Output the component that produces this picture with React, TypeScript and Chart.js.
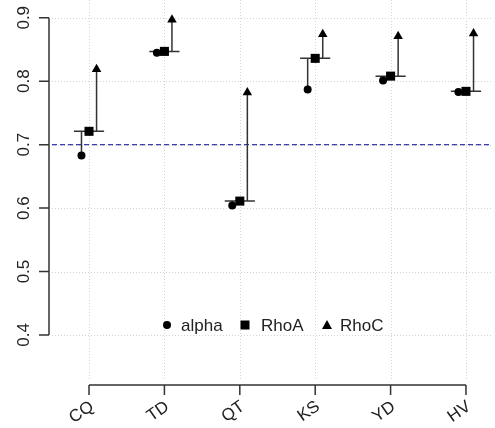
import { useEffect, useRef } from 'react';
import { Chart, registerables } from 'chart.js';

Chart.register(...registerables);

const categories = ['CQ', 'TD', 'QT', 'KS', 'YD', 'HV'];
const alpha = [0.683, 0.845, 0.604, 0.787, 0.801, 0.783];
const rhoA = [0.721, 0.847, 0.611, 0.836, 0.808, 0.784];
const rhoC = [0.819, 0.897, 0.782, 0.874, 0.871, 0.875];
const yTicks = [0.4, 0.5, 0.6, 0.7, 0.8, 0.9];
const yTickLabels = ['0.4', '0.5', '0.6', '0.7', '0.8', '0.9'];
const seriesNames = ['alpha', 'RhoA', 'RhoC'];
const refValue = 0.7;

const FONT = '"Liberation Sans", Arial, Helvetica, sans-serif';
const OFF = 0.1;
const CAP = 0.2;

export default function App() {
  const ref = useRef<HTMLCanvasElement | null>(null);

  useEffect(() => {
    const canvas = ref.current;
    if (!canvas) return;

    const pos = categories.map((_, i) => i + 1);

    const gap = { x: null as any, y: null as any };
    const capData: any[] = [];
    const lowData: any[] = [];
    const highData: any[] = [];
    pos.forEach((p, i) => {
      capData.push({ x: p - CAP, y: rhoA[i] }, { x: p + CAP, y: rhoA[i] }, gap);
      lowData.push({ x: p - OFF, y: alpha[i] }, { x: p - OFF, y: rhoA[i] }, gap);
      highData.push({ x: p + OFF, y: rhoA[i] }, { x: p + OFF, y: rhoC[i] }, gap);
    });

    const lineDs = (data: any[]) => ({
      type: 'line' as const,
      data,
      showLine: true,
      spanGaps: false,
      borderColor: '#333333',
      borderWidth: 1.5,
      pointRadius: 0,
      fill: false,
      order: 2,
    });

    const rAxes = {
      id: 'rAxes',
      beforeDatasetsDraw(chart: any) {
        const { ctx, chartArea, scales } = chart;
        const xs = scales.x;
        const ys = scales.y;
        ctx.save();
        // dotted grid
        ctx.strokeStyle = '#d3d3d3';
        ctx.lineWidth = 1;
        ctx.setLineDash([1, 2]);
        yTicks.forEach((v) => {
          const y = Math.round(ys.getPixelForValue(v)) + 0.5;
          ctx.beginPath();
          ctx.moveTo(chartArea.left, y);
          ctx.lineTo(chartArea.right, y);
          ctx.stroke();
        });
        pos.forEach((p) => {
          const x = Math.round(xs.getPixelForValue(p)) + 0.5;
          ctx.beginPath();
          ctx.moveTo(x, chartArea.top);
          ctx.lineTo(x, chartArea.bottom);
          ctx.stroke();
        });
        // reference line
        ctx.strokeStyle = '#3a3ab4';
        ctx.lineWidth = 1.3;
        ctx.setLineDash([5, 3]);
        const ry = ys.getPixelForValue(refValue);
        ctx.beginPath();
        ctx.moveTo(chartArea.left, ry);
        ctx.lineTo(chartArea.right, ry);
        ctx.stroke();
        ctx.restore();
      },
      afterDraw(chart: any) {
        const { ctx, chartArea, scales } = chart;
        const xs = scales.x;
        const ys = scales.y;
        ctx.save();
        ctx.strokeStyle = '#333333';
        ctx.fillStyle = '#222222';
        ctx.lineWidth = 1.5;
        ctx.setLineDash([]);
        // y axis
        const ax = chartArea.left - 3;
        const yTop = ys.getPixelForValue(yTicks[yTicks.length - 1]);
        const yBot = ys.getPixelForValue(yTicks[0]);
        ctx.beginPath();
        ctx.moveTo(ax, yTop);
        ctx.lineTo(ax, yBot);
        yTicks.forEach((v) => {
          const y = ys.getPixelForValue(v);
          ctx.moveTo(ax - 10, y);
          ctx.lineTo(ax, y);
        });
        ctx.stroke();
        ctx.font = '17px ' + FONT;
        ctx.textAlign = 'center';
        ctx.textBaseline = 'alphabetic';
        yTicks.forEach((v, i) => {
          const y = ys.getPixelForValue(v);
          ctx.save();
          ctx.translate(ax - 20, y);
          ctx.rotate(-Math.PI / 2);
          ctx.fillText(yTickLabels[i], 0, 0);
          ctx.restore();
        });
        // x axis
        const axy = chartArea.bottom + 5;
        const xL = xs.getPixelForValue(pos[0]);
        const xR = xs.getPixelForValue(pos[pos.length - 1]);
        ctx.beginPath();
        ctx.moveTo(xL, axy);
        ctx.lineTo(xR, axy);
        pos.forEach((p) => {
          const x = xs.getPixelForValue(p);
          ctx.moveTo(x, axy);
          ctx.lineTo(x, axy + 10);
        });
        ctx.stroke();
        ctx.textAlign = 'right';
        ctx.textBaseline = 'middle';
        pos.forEach((p, i) => {
          const x = xs.getPixelForValue(p);
          ctx.save();
          ctx.translate(x + 3, axy + 20);
          ctx.rotate(-35 * Math.PI / 180);
          ctx.fillText(categories[i], 0, 0);
          ctx.restore();
        });
        // legend
        const ly = 325;
        ctx.fillStyle = '#000000';
        ctx.beginPath();
        ctx.arc(167, ly, 4, 0, Math.PI * 2);
        ctx.fill();
        ctx.fillRect(245 - 4.5, ly - 4.5, 9, 9);
        ctx.beginPath();
        ctx.moveTo(327, ly - 5);
        ctx.lineTo(332, ly + 4);
        ctx.lineTo(322, ly + 4);
        ctx.closePath();
        ctx.fill();
        ctx.fillStyle = '#222222';
        ctx.textAlign = 'left';
        ctx.textBaseline = 'middle';
        ctx.fillText(seriesNames[0], 181, ly + 1);
        ctx.fillText(seriesNames[1], 261, ly + 1);
        ctx.fillText(seriesNames[2], 340, ly + 1);
        ctx.restore();
      },
    };

    const chart = new Chart(canvas, {
      type: 'scatter',
      data: {
        datasets: [
          {
            label: seriesNames[0],
            data: pos.map((p, i) => ({ x: p - OFF, y: alpha[i] })),
            pointStyle: 'circle',
            pointRadius: 4,
            backgroundColor: '#000000',
            borderWidth: 0,
            order: 1,
          },
          {
            label: seriesNames[1],
            data: pos.map((p, i) => ({ x: p, y: rhoA[i] })),
            pointStyle: 'rect',
            pointRadius: 6.4,
            backgroundColor: '#000000',
            borderWidth: 0,
            order: 1,
          },
          {
            label: seriesNames[2],
            data: pos.map((p, i) => ({ x: p + OFF, y: rhoC[i] })),
            pointStyle: 'triangle',
            pointRadius: 5.5,
            backgroundColor: '#000000',
            borderWidth: 0,
            order: 1,
          },
          lineDs(capData) as any,
          lineDs(lowData) as any,
          lineDs(highData) as any,
        ],
      },
      options: {
        responsive: false,
        animation: false,
        events: [],
        layout: { autoPadding: false, padding: { left: 52, right: 3, top: 0, bottom: 48 } },
        scales: {
          x: { type: 'linear', min: 0.509, max: 6.345, display: false },
          y: { type: 'linear', min: 0.329, max: 0.928, display: false },
        },
        plugins: { legend: { display: false }, tooltip: { enabled: false } },
      },
      plugins: [rAxes],
    });

    return () => chart.destroy();
  }, []);

  return (
    <div style={{ position: 'absolute', left: 0, top: 0, width: 495, height: 428, background: '#ffffff' }}>
      <canvas ref={ref} width={495} height={428} style={{ width: 495, height: 428, display: 'block' }} />
    </div>
  );
}
